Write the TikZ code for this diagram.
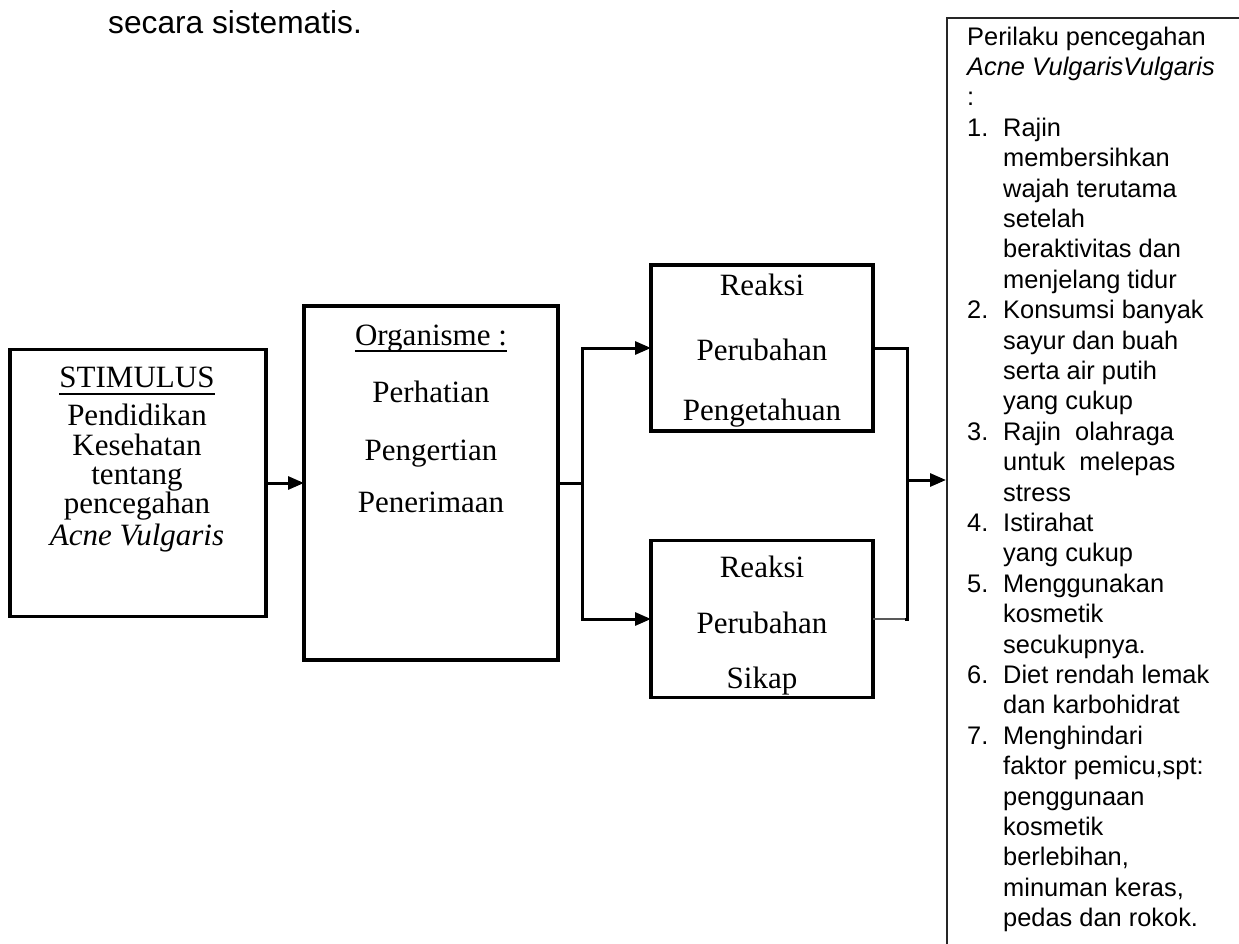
\documentclass[tikz,border=0pt]{standalone}
\usepackage{fontspec}
\setmainfont{Liberation Serif}
\newfontfamily\arialf{Liberation Sans}
\usetikzlibrary{arrows.meta}
\begin{document}
\begin{tikzpicture}[x=1bp,y=-1bp,
  box/.style={draw, line width=3.3bp, inner sep=0pt, outer sep=0pt},
  serif/.style={inner sep=0pt, font=\fontsize{31bp}{36bp}\selectfont, anchor=base},
  sans/.style={inner sep=0pt, font=\arialf\fontsize{25.4bp}{30bp}\selectfont, anchor=base west},
  conn/.style={line width=3bp},
  arr/.style={conn, -{Triangle[length=16bp,width=13bp]}},
  uline/.style={line width=2.6bp}]
\useasboundingbox (0,0) rectangle (1239,944);
\fill[white] (0,0) rectangle (1239,944);

% top text
\node[inner sep=0pt, anchor=base west, font=\arialf\fontsize{31.7bp}{36bp}\selectfont] (title) at (108,33) {secara sistematis.};

% boxes
\node[box, minimum width=256bp, minimum height=267bp] (stim) at (138,483) {};
\node[box, minimum width=254bp, minimum height=354bp] (org) at (431,483) {};
\node[box, minimum width=222bp, minimum height=166bp] (r1) at (762,348) {};
\node[box, minimum width=222bp, minimum height=157bp] (r2) at (762,619) {};

% stimulus text
\node[serif] (s0) at (137,387) {STIMULUS};
\draw[uline] ([yshift=-7bp]s0.base west) -- ([yshift=-7bp]s0.base east);
\node[serif] (s1) at (137,425) {Pendidikan};
\node[serif] (s2) at (137,455) {Kesehatan};
\node[serif] (s3) at (137,484) {tentang};
\node[serif] (s4) at (137,513) {pencegahan};
\node[serif] (s5) at (137,545) {\itshape Acne Vulgaris};

% organisme text
\node[serif] (o0) at (431,345) {Organisme :};
\draw[uline] ([yshift=-6bp]o0.base west) -- ([yshift=-6bp]o0.base east);
\node[serif] (o1) at (431,402) {Perhatian};
\node[serif] (o2) at (431,460) {Pengertian};
\node[serif] (o3) at (431,512) {Penerimaan};

% reaksi texts
\node[serif] (a0) at (762,295) {Reaksi};
\node[serif] (a1) at (762,360) {Perubahan};
\node[serif] (a2) at (762,420) {Pengetahuan};
\node[serif] (b0) at (762,577) {Reaksi};
\node[serif] (b1) at (762,633) {Perubahan};
\node[serif] (b2) at (762,688) {Sikap};

% right box
\draw[line width=2bp, black!85] (947,944) -- (947,18) -- (1239,18);
\coordinate (rbin) at (946,480);

% connectors
\draw[arr] (stim.east) -- (org.west);
\coordinate (j1) at (582,483);
\draw[conn] (org.east) -- (j1);
\draw[arr] (j1) |- (r1.west);
\draw[arr] (j1) |- (r2.west);
\coordinate (j2) at (907,480);
\draw[conn] (r1.east) -| (j2);
\draw[conn] (j2) |- ([xshift=-2bp]j2 |- r2.east);
\draw[line width=2bp, black!65] ([xshift=-2bp]j2 |- r2.east) -- (r2.east);
\draw[arr] (j2) -- (rbin);

% right box list
\foreach \i/\t in {0/{Perilaku pencegahan}, 1/{\itshape Acne VulgarisVulgaris}, 2/{:}}
  \node[sans] (L\i) at (967,45+30.4*\i) {\t};
\foreach \i/\t in {3/{Rajin}, 4/{membersihkan}, 5/{wajah terutama}, 6/{setelah},
  7/{beraktivitas dan}, 8/{menjelang tidur}, 9/{Konsumsi banyak}, 10/{sayur dan buah},
  11/{serta air putih}, 12/{yang cukup}, 13/{Rajin\ \ olahraga}, 14/{untuk\ \ melepas},
  15/{stress}, 16/{Istirahat}, 17/{yang cukup}, 18/{Menggunakan}, 19/{kosmetik},
  20/{secukupnya.}, 21/{Diet rendah lemak}, 22/{dan karbohidrat}, 23/{Menghindari},
  24/{faktor pemicu,spt:}, 25/{penggunaan}, 26/{kosmetik}, 27/{berlebihan,},
  28/{minuman keras,}, 29/{pedas dan rokok.}}
  \node[sans] (L\i) at (1003,45+30.4*\i) {\t};
\foreach \i/\n in {3/1, 9/2, 13/3, 16/4, 18/5, 21/6, 23/7}
  \node[sans] (N\i) at (967,45+30.4*\i) {\n.};
\end{tikzpicture}
\end{document}
